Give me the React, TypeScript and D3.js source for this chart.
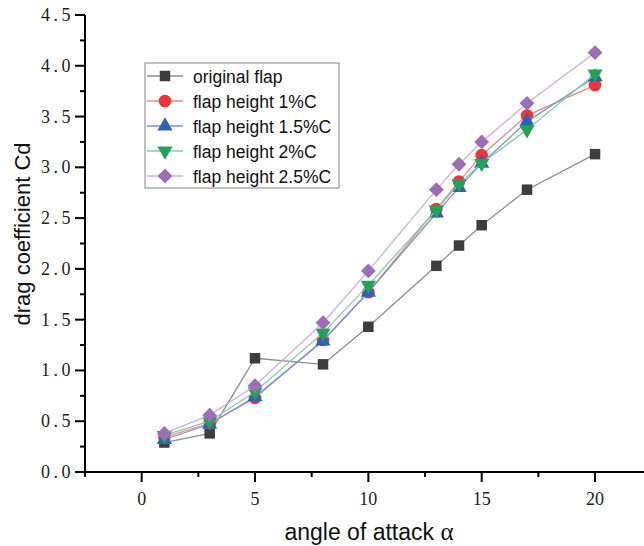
import React from "react";
import * as d3 from "d3";

const angles = [1, 3, 5, 8, 10, 13, 14, 15, 17, 20];
const originalFlap = [0.29, 0.38, 1.12, 1.06, 1.43, 2.03, 2.23, 2.43, 2.78, 3.13];
const flap1 = [0.34, 0.48, 0.73, 1.30, 1.77, 2.59, 2.86, 3.12, 3.51, 3.81];
const flap15 = [0.32, 0.47, 0.74, 1.29, 1.77, 2.55, 2.80, 3.04, 3.45, 3.89];
const flap2 = [0.36, 0.50, 0.79, 1.37, 1.84, 2.58, 2.84, 3.04, 3.37, 3.92];
const flap25 = [0.38, 0.56, 0.85, 1.47, 1.98, 2.78, 3.03, 3.25, 3.63, 4.13];
const seriesNames = ["original flap", "flap height 1%C", "flap height 1.5%C", "flap height 2%C", "flap height 2.5%C"];
const yTicks = [0, 0.5, 1, 1.5, 2, 2.5, 3, 3.5, 4, 4.5];
const xTicks = [0, 5, 10, 15, 20];

const styles = [
  { marker: "square", fill: "#3d3d3d", line: "#8f8f8f" },
  { marker: "circle", fill: "#e8363b", line: "#f2888a" },
  { marker: "up", fill: "#2f62b3", line: "#7895d6" },
  { marker: "down", fill: "#22a157", line: "#84cf9f" },
  { marker: "diamond", fill: "#9c6fb5", line: "#cfb0dd" },
];

const seriesValues = [originalFlap, flap1, flap15, flap2, flap25];

function Marker({ type, x, y, fill }: { type: string; x: number; y: number; fill: string }) {
  const sym =
    type === "square" || type === "diamond" ? d3.symbolSquare :
    type === "circle" ? d3.symbolCircle : d3.symbolTriangle;
  const size = type === "square" ? 110 : type === "circle" ? 125 : type === "diamond" ? 110 : 100;
  const path = d3.symbol().type(sym).size(size)() as string;
  let transform = `translate(${x},${y})`;
  if (type === "down") transform += " rotate(180)";
  if (type === "diamond") transform += " rotate(45)";
  return <path d={path} transform={transform} fill={fill} />;
}

export default function App() {
  const W = 644, H = 546;
  const x = d3.scaleLinear().domain([-2.5, 22.5]).range([85, 651.7]);
  const y = d3.scaleLinear().domain([0, 4.5]).range([472, 15]);
  const line = d3.line<[number, number]>().x(d => x(d[0])).y(d => y(d[1]));
  const xMinor = d3.range(-2.5, 22.6, 2.5).filter(v => Math.abs(v % 5) > 0.01);
  const yMinor = d3.range(0.25, 4.5, 0.5);
  const serif = "'Liberation Serif', 'Times New Roman', serif";
  const sans = "'Liberation Sans', Arial, sans-serif";

  return (
    <svg width={W} height={H} style={{ position: "absolute", left: 0, top: 0, background: "#fff" }}>
      <rect width={W} height={H} fill="#fff" />
      {/* series */}
      {seriesValues.map((vals, i) => {
        const pts = angles.map((a, j) => [a, vals[j]] as [number, number]);
        return (
          <g key={i}>
            <path d={line(pts) as string} fill="none" stroke={styles[i].line} strokeWidth={1.3} />
            {pts.map((p, j) => (
              <Marker key={j} type={styles[i].marker} x={x(p[0])} y={y(p[1])} fill={styles[i].fill} />
            ))}
          </g>
        );
      })}
      {/* axes */}
      <line x1={85} x2={W} y1={472} y2={472} stroke="#000" strokeWidth={2} />
      <line x1={85} x2={85} y1={15} y2={472} stroke="#000" strokeWidth={2} />
      {yTicks.map(t => (
        <g key={"yt" + t}>
          <line x1={75} x2={85} y1={y(t)} y2={y(t)} stroke="#000" strokeWidth={2} />
          <text x={74} y={y(t) + 6} textAnchor="end" fontFamily={serif} fontSize={18} letterSpacing={3.5} fill="#222">
            {t.toFixed(1)}
          </text>
        </g>
      ))}
      {yMinor.map(t => (
        <line key={"ym" + t} x1={80} x2={85} y1={y(t)} y2={y(t)} stroke="#000" strokeWidth={2} />
      ))}
      {xTicks.map(t => (
        <g key={"xt" + t}>
          <line x1={x(t)} x2={x(t)} y1={472} y2={482} stroke="#000" strokeWidth={2} />
          <text x={x(t)} y={505} textAnchor="middle" fontFamily={serif} fontSize={18} fill="#222">
            {t}
          </text>
        </g>
      ))}
      {xMinor.map(t => (
        <line key={"xm" + t} x1={x(t)} x2={x(t)} y1={472} y2={477} stroke="#000" strokeWidth={2} />
      ))}
      {/* axis titles */}
      <text x={369} y={540} textAnchor="middle" fontFamily={sans} fontSize={23} fill="#111">
        angle of attack <tspan fontFamily={serif} fontSize={25}>α</tspan>
      </text>
      <text transform={`translate(30,234) rotate(-90)`} textAnchor="middle" fontFamily={sans} fontSize={22} fill="#111">
        drag coefficient Cd
      </text>
      {/* legend */}
      <rect x={145} y={63} width={194} height={125} fill="#fff" stroke="#9a9a9a" strokeWidth={1.2} />
      {seriesNames.map((name, i) => {
        const ry = 76 + i * 25;
        return (
          <g key={"lg" + i}>
            <line x1={147} x2={183} y1={ry} y2={ry} stroke={styles[i].line} strokeWidth={1.3} />
            <Marker type={styles[i].marker} x={165} y={ry} fill={styles[i].fill} />
            <text x={193} y={ry + 6.5} fontFamily={sans} fontSize={17.5} fill="#111">
              {name}
            </text>
          </g>
        );
      })}
    </svg>
  );
}
